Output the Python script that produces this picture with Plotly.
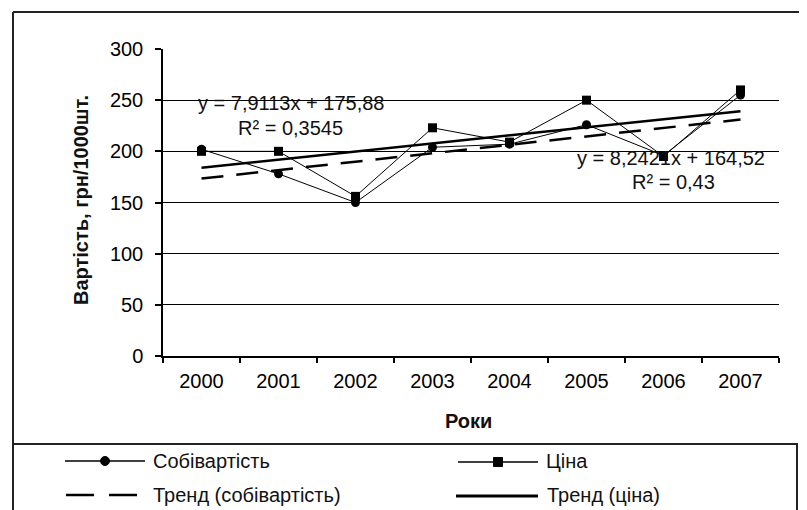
import numpy as np
import plotly.graph_objects as go

years = ['2000', '2001', '2002', '2003', '2004', '2005', '2006', '2007']
cost = [202, 178, 150, 204, 207, 226, 196, 255]
price = [200, 200, 156, 223, 209, 250, 195, 260]
y_ticks = [0, 50, 100, 150, 200, 250, 300]

eq_price = ['y = 7,9113x + 175,88', 'R² = 0,3545']
eq_cost = ['y = 8,2421x + 164,52', 'R² = 0,43']
legend_names = ['Собівартість', 'Ціна', 'Тренд (собівартість)', 'Тренд (ціна)']

FONT = 'Liberation Sans, Arial, sans-serif'
L, R, T, B = 155, 36, 41, 162
W, H = 807, 510
PW, PH = W - L - R, H - T - B


def px_x(px):
    return (px - L) / PW


def px_y(py):
    return (H - B - py) / PH


# linear trends, like Excel's trendline (x = 1..n)
xi = np.arange(1, len(years) + 1)
trend_cost = np.polyval(np.polyfit(xi, cost, 1), xi)
trend_price = np.polyval(np.polyfit(xi, price, 1), xi)

fig = go.Figure()
fig.add_trace(go.Scatter(x=years, y=cost, mode='lines+markers', name=legend_names[0],
                         line=dict(color='black', width=1),
                         marker=dict(symbol='circle', size=9, color='black')))
fig.add_trace(go.Scatter(x=years, y=price, mode='lines+markers', name=legend_names[1],
                         line=dict(color='black', width=1),
                         marker=dict(symbol='square', size=9, color='black')))
fig.add_trace(go.Scatter(x=years, y=trend_cost, mode='lines', name=legend_names[2],
                         line=dict(color='black', width=2.5, dash='22px,13px')))
fig.add_trace(go.Scatter(x=years, y=trend_price, mode='lines', name=legend_names[3],
                         line=dict(color='black', width=2.5)))

fig.update_xaxes(type='category', range=[-0.5, 7.5], showline=True, linecolor='black', linewidth=1.5,
                 ticks='outside', tickson='boundaries', ticklen=5, tickcolor='black', tickwidth=1.5,
                 ticklabelstandoff=6,
                 showgrid=False, tickfont=dict(family=FONT, size=20, color='black'))
fig.update_yaxes(range=[0, 300], tickvals=y_ticks, showline=True, linecolor='black', linewidth=1.5,
                 ticks='outside', ticklen=6, tickcolor='black', tickwidth=1.5,
                 ticklabelstandoff=8,
                 showgrid=True, gridcolor='black', gridwidth=1.3, zeroline=False,
                 tickfont=dict(family=FONT, size=20, color='black'))

txt = dict(family=FONT, size=20, color='#111')
ann = [
    dict(x=px_x(283), y=px_y(95), text=eq_price[0]),
    dict(x=px_x(282), y=px_y(120), text=eq_price[1]),
    dict(x=px_x(663), y=px_y(150), text=eq_cost[0]),
    dict(x=px_x(665), y=px_y(174), text=eq_cost[1]),
    dict(x=px_x(460), y=px_y(413), text='<b>Роки</b>'),
    dict(x=px_x(73), y=px_y(192), text='<b>Вартість, грн/1000шт.</b>', textangle=-90),
    dict(x=px_x(143), y=px_y(453), text=legend_names[0], xanchor='left'),
    dict(x=px_x(536), y=px_y(453), text=legend_names[1], xanchor='left'),
    dict(x=px_x(143), y=px_y(487), text=legend_names[2], xanchor='left'),
    dict(x=px_x(537), y=px_y(487), text=legend_names[3], xanchor='left'),
]
for a in ann:
    a.setdefault('xanchor', 'center')
    fig.add_annotation(xref='paper', yref='paper', yanchor='middle', showarrow=False,
                       font=txt, **a)

# frame + hand-drawn legend
line_k = dict(color='#222', width=2)
shapes = [
    dict(type='line', x0=px_x(5), x1=px_x(807), y0=px_y(4), y1=px_y(4), line=line_k),
    dict(type='line', x0=px_x(5), x1=px_x(5), y0=px_y(4), y1=px_y(510), line=line_k),
    dict(type='rect', x0=px_x(5), x1=px_x(789), y0=px_y(436), y1=px_y(507), line=line_k),
    dict(type='line', x0=px_x(57), x1=px_x(137), y0=px_y(453), y1=px_y(453),
         line=dict(color='black', width=1.5)),
    dict(type='line', x0=px_x(450), x1=px_x(530), y0=px_y(454), y1=px_y(454),
         line=dict(color='black', width=1.5)),
    dict(type='line', x0=px_x(58), x1=px_x(129), y0=px_y(487), y1=px_y(487),
         line=dict(color='black', width=2.5, dash='28px,15px')),
    dict(type='line', x0=px_x(448), x1=px_x(530), y0=px_y(488), y1=px_y(488),
         line=dict(color='black', width=3)),
    dict(type='circle', xsizemode='pixel', ysizemode='pixel', xanchor=px_x(97), yanchor=px_y(453),
         x0=-4.5, x1=4.5, y0=-4.5, y1=4.5, fillcolor='black', line=dict(color='black', width=1)),
    dict(type='rect', xsizemode='pixel', ysizemode='pixel', xanchor=px_x(490), yanchor=px_y(454),
         x0=-4.5, x1=4.5, y0=-4.5, y1=4.5, fillcolor='black', line=dict(color='black', width=1)),
]
for s in shapes:
    fig.add_shape(xref='paper', yref='paper', layer='above', **s)

fig.update_layout(width=W, height=H, margin=dict(l=L, r=R, t=T, b=B),
                  paper_bgcolor='white', plot_bgcolor='white', showlegend=False,
                  font=dict(family=FONT, size=20, color='black'))

fig.write_html('out.html')
